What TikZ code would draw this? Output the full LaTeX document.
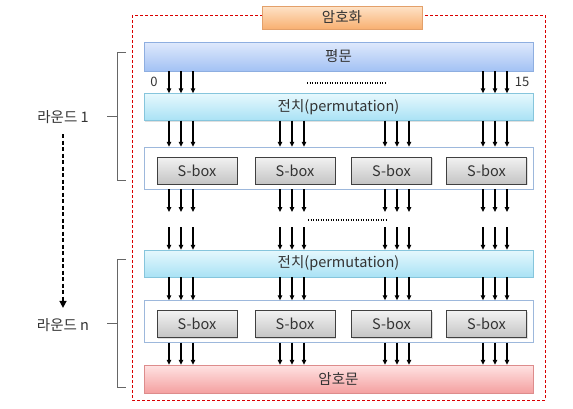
\documentclass[tikz,border=0pt]{standalone}
\usepackage{fontspec}
\setmainfont{Noto Sans CJK KR}
\usetikzlibrary{arrows.meta,calc,shadows}
\definecolor{BlueTop}{HTML}{DFE9FC}
\definecolor{BlueBot}{HTML}{A3C2F4}
\definecolor{BlueEdge}{HTML}{8EAEE0}
\definecolor{CyanTop}{HTML}{E6F8FD}
\definecolor{CyanBot}{HTML}{A9E2F5}
\definecolor{CyanEdge}{HTML}{86C5DC}
\definecolor{PinkTop}{HTML}{FFE3E3}
\definecolor{PinkBot}{HTML}{F4A0A0}
\definecolor{PinkEdge}{HTML}{DD8C8C}
\definecolor{OrangeTop}{HTML}{FEE3C8}
\definecolor{OrangeBot}{HTML}{F8B071}
\definecolor{OrangeEdge}{HTML}{E3A06A}
\definecolor{GrayTop}{HTML}{F2F2F2}
\definecolor{GrayBot}{HTML}{C4C4C4}
\definecolor{GrayEdge}{HTML}{404040}
\definecolor{FrameEdge}{HTML}{9DB8DC}
\definecolor{Ink}{HTML}{333333}

\begin{document}
\begin{tikzpicture}[
  x=1pt,y=-1pt,
  font=\fontsize{14.5}{17}\selectfont,
  text=Ink,
  shade/.style={drop shadow={opacity=0.25,shadow xshift=1pt,shadow yshift=-1pt}},
  plainbar/.style={draw=BlueEdge,top color=BlueTop,bottom color=BlueBot,minimum width=389pt,minimum height=29pt,inner sep=0pt,shade},
  permbar/.style={draw=CyanEdge,top color=CyanTop,bottom color=CyanBot,minimum width=389pt,minimum height=27pt,inner sep=0pt,shade},
  cipherbar/.style={draw=PinkEdge,top color=PinkTop,bottom color=PinkBot,minimum width=389pt,minimum height=28pt,inner sep=0pt,shade},
  titlebar/.style={draw=OrangeEdge,top color=OrangeTop,bottom color=OrangeBot,minimum width=160pt,minimum height=23pt,inner sep=0pt,shade},
  sboxrow/.style={draw=FrameEdge,fill=white,minimum width=389pt,minimum height=42pt},
  sbox/.style={draw=GrayEdge,top color=GrayTop,bottom color=GrayBot,minimum width=80pt,minimum height=27pt,inner sep=0pt,shade},
  arr/.style={-{Triangle[length=5pt,width=4.5pt]},line width=1.2pt,black},
  roundarr/.style={-{Triangle[length=7pt,width=7pt]},line width=1.4pt,black,dash pattern=on 4pt off 2.5pt},
  bracket/.style={draw=gray!80!black,line width=0.8pt},
  dots/.style={black,line width=1.1pt,dash pattern=on 1pt off 1.5pt}
]
\useasboundingbox (0,0) rectangle (573,408);

% outer frame and title
\draw[red!85!black,dash pattern=on 3pt off 2pt,line width=0.7pt] (132,15) rectangle (545,400);
\node[titlebar] (title) at (342,17.5) {암호화};

% bars
\node[plainbar] (plain) at (338.5,56.5) {평문};
\node[permbar] (perm1) at (338.5,107) {전치(permutation)};
\node[sboxrow] (row1) at (338.5,168) {};
\node[permbar] (perm2) at (338.5,263.5) {전치(permutation)};
\node[sboxrow] (row2) at (338.5,321.5) {};
\node[cipherbar] (cipher) at (338.5,379) {암호문};

% s-boxes
\foreach \x [count=\i] in {197,295,391.5,486.5} {
  \node[sbox] (sboxA\i) at (\x,170.5) {S-box};
  \node[sbox] (sboxB\i) at (\x,324) {S-box};
}

% bit columns and gap ends
\foreach \x [count=\i] in {169,181,193,280,292,304,385,397,409,483,495,507}
  \coordinate (col\i) at (\x,0);
\coordinate (gapTop) at (0,212);
\coordinate (gapBot) at (0,227);

\foreach \i in {1,2,3,10,11,12}
  \draw[arr] (plain.south -| col\i) -- (perm1.north -| col\i);
\foreach \i in {1,...,12} {
  \draw[arr] (perm1.south -| col\i) -- (row1.north -| col\i);
  \draw[arr] (row1.south -| col\i) -- (gapTop -| col\i);
  \draw[arr] (gapBot -| col\i) -- (perm2.north -| col\i);
  \draw[arr] (perm2.south -| col\i) -- (row2.north -| col\i);
  \draw[arr] (row2.south -| col\i) -- (cipher.north -| col\i);
}

\node[font=\fontsize{13}{15}\selectfont] (bit0) at (154,82) {0};
\node[font=\fontsize{13}{15}\selectfont] (bit15) at (522,82) {15};
\draw[dots] (307,83) -- (387,83);
\draw[dots] (308,220) -- (388,220);

% rounds
\node (round1) at (63,117) {라운드 1};
\node (roundn) at (63,325) {라운드 n};
\draw[roundarr,shorten <=7pt,shorten >=7pt] (round1) -- (roundn);
\draw[bracket] (126,52) -- (117,52) -- (117,180) -- (126,180);
\draw[bracket] (107,116) -- (117,116);
\draw[bracket] (126,259) -- (117,259) -- (117,387) -- (126,387);
\draw[bracket] (107,323) -- (117,323);
\end{tikzpicture}
\end{document}
